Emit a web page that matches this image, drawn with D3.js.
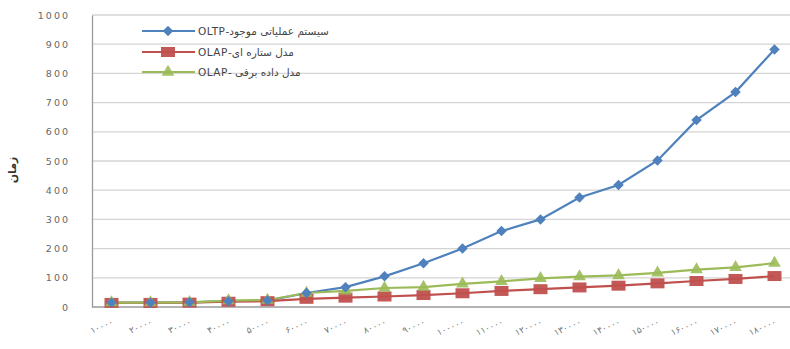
<!DOCTYPE html>
<html><head><meta charset="utf-8">
<script src="https://cdn.jsdelivr.net/npm/d3@7"></script>
<style>html,body{margin:0;padding:0;background:#fff;}svg{display:block;}</style>
</head><body>
<svg id="c" width="790" height="349"></svg>
<script>
const categories = ["۱۰۰۰۰","۲۰۰۰۰","۳۰۰۰۰","۴۰۰۰۰","۵۰۰۰۰","۶۰۰۰۰","۷۰۰۰۰","۸۰۰۰۰","۹۰۰۰۰","۱۰۰۰۰۰","۱۱۰۰۰۰","۱۲۰۰۰۰","۱۳۰۰۰۰","۱۴۰۰۰۰","۱۵۰۰۰۰","۱۶۰۰۰۰","۱۷۰۰۰۰","۱۸۰۰۰۰"];
const oltp = [15,15,16,20,22,48,68,105,150,200,260,300,375,418,502,640,736,882];
const star = [14,14,15,18,20,28,32,36,41,47,55,61,67,73,81,89,96,106];
const cube = [15,15,16,22,24,48,55,65,68,79,88,98,104,108,117,128,136,150];
const yTicks = [0,100,200,300,400,500,600,700,800,900,1000];
const seriesNames = ["سیستم عملیاتی موجود-OLTP","مدل ستاره ای-OLAP","مدل داده برفی -OLAP"];

(function(){
const svg = d3.select("#c");
const mLeft = 92, mRight = 794, mTop = 15, mBottom = 307;
const x = d3.scalePoint().domain(categories).range([mLeft, mRight]).padding(0.5);
const y = d3.scaleLinear().domain([0, 1000]).range([mBottom, mTop]);

svg.append("g").selectAll("line").data(yTicks.filter(d => d > 0)).join("line")
  .attr("x1", mLeft).attr("x2", 790).attr("y1", d => y(d)).attr("y2", d => y(d))
  .attr("stroke", "#d4d4d4").attr("stroke-width", 1.3);

const ya = svg.append("g").attr("transform", `translate(${mLeft},0)`)
  .call(d3.axisLeft(y).tickValues(yTicks).tickFormat(d3.format("d")).tickSize(0).tickPadding(22));
ya.select(".domain").attr("stroke", "#9a9a9a").attr("stroke-width", 1.3);
ya.selectAll("text").attr("fill", "#666").style("font-family", "DejaVu Sans").style("font-size", "9.5px").style("letter-spacing", "2px");

const xa = svg.append("g").attr("transform", `translate(0,${mBottom})`)
  .call(d3.axisBottom(x).tickSize(0).tickPadding(0));
xa.select(".domain").attr("stroke", "#9a9a9a").attr("stroke-width", 1.3).attr("d", `M${mLeft},0H790`);
xa.selectAll("text")
  .attr("fill", "#777").style("font-family", "DejaVu Sans").style("font-size", "9px").style("letter-spacing", "3.5px")
  .attr("text-anchor", "end").attr("direction", "ltr")
  .attr("transform", "translate(2,17) rotate(-24)").attr("dy", "0");

svg.append("text").attr("transform", "translate(16,170) rotate(-90)")
  .attr("text-anchor", "middle").style("font-family", "DejaVu Sans").style("font-weight", "bold")
  .style("font-size", "11px").attr("fill", "#333").text("زمان");

const line = d3.line().x((d, i) => x(categories[i])).y(d => y(d));
const colors = ["#4F81BD", "#C0504D", "#9BBB59"];
const data = [oltp, star, cube];

function marker(g, type, color) {
  if (type === 0) {
    g.append("path").attr("d", d3.symbol(d3.symbolDiamond2, 70)()).attr("fill", color);
  } else if (type === 1) {
    g.append("rect").attr("x", -7).attr("y", -5).attr("width", 14).attr("height", 10).attr("fill", color).attr("opacity", 0.95);
  } else {
    g.append("path").attr("d", d3.symbol(d3.symbolTriangle, 70)()).attr("fill", color).attr("opacity", 0.9);
  }
}

[0, 1, 2].forEach(s => {
  svg.append("path").datum(data[s]).attr("d", line).attr("fill", "none")
    .attr("stroke", colors[s]).attr("stroke-width", 2.2);
});
[1, 2, 0].forEach(s => {
  data[s].forEach((v, i) => {
    const g = svg.append("g").attr("transform", `translate(${x(categories[i])},${y(v)})`);
    marker(g, s, colors[s]);
  });
});

const legY = [31, 52, 72];
seriesNames.forEach((name, s) => {
  svg.append("line").attr("x1", 142).attr("x2", 195).attr("y1", legY[s]).attr("y2", legY[s])
    .attr("stroke", colors[s]).attr("stroke-width", 2.2);
  const g = svg.append("g").attr("transform", `translate(168,${legY[s]})`);
  marker(g, s, colors[s]);
  svg.append("text").attr("x", 198).attr("y", legY[s]).attr("dy", "0.35em")
    .attr("direction", "rtl").attr("text-anchor", "end")
    .style("font-family", "DejaVu Sans").style("font-size", "10.5px").style("letter-spacing", "0.5px")
    .attr("fill", "#444").text(name);
});
})();
</script>
</body></html>
